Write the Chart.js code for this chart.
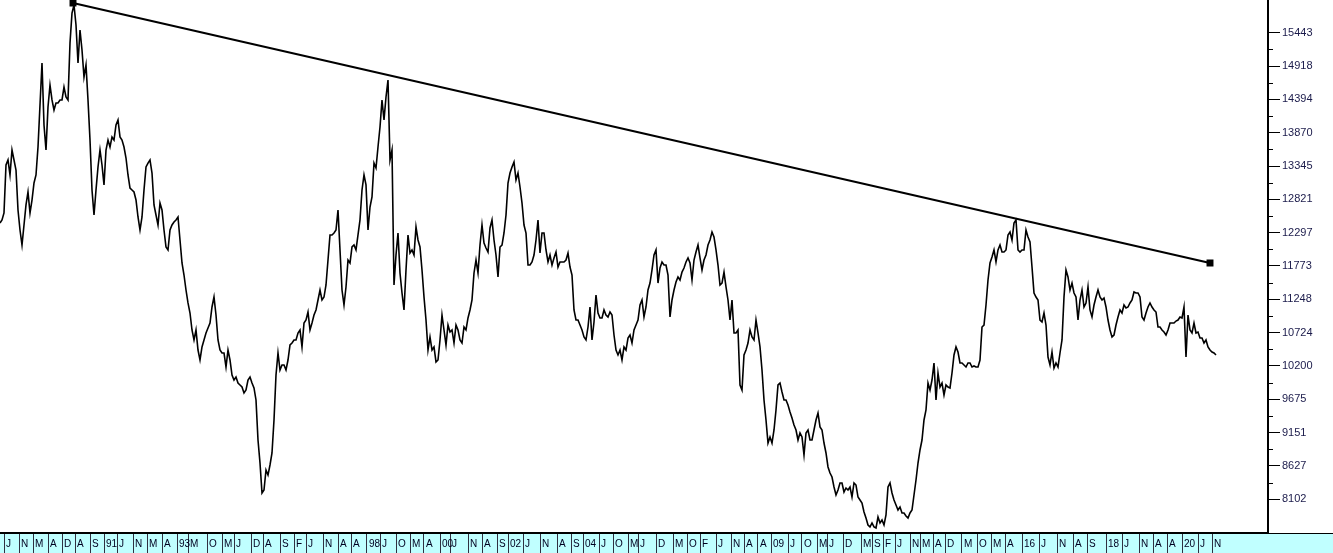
<!DOCTYPE html>
<html>
<head>
<meta charset="utf-8">
<script src="https://cdn.jsdelivr.net/npm/chart.js@4.4.1/dist/chart.umd.min.js"></script>
<style>
  html, body { margin: 0; padding: 0; background: #fff; overflow: hidden; }
  #contenedor { width: 1333px; height: 553px; position: relative; }
</style>
</head>
<body>
<div id="contenedor"><canvas id="grafica"></canvas></div>
<script>
// valores (un punto cada intervalo igual)
const valores = [
  12449, 12497, 12607, 13362, 13441, 13205, 13598, 13441, 13283, 12654,
  12339, 12103, 12418, 12733, 12937, 12607, 12811, 13079, 13205, 13645,
  14306, 14967, 13991, 13598, 14275, 14620, 14385, 14227, 14337, 14337,
  14385, 14385, 14589, 14432, 14385, 15281, 15753, 15880, 15565, 14967,
  15486, 15171, 14747, 14935, 14385, 13755, 12969, 12575, 12969, 13331,
  13598, 13362, 13048, 13598, 13755, 13645, 13803, 13755, 13991, 14070,
  13803, 13755, 13645, 13472, 13205, 13000, 12969, 12937, 12811, 12544,
  12339, 12544, 12969, 13331, 13393, 13441, 13236, 12733, 12575, 12418,
  12764, 12654, 12339, 12072, 12025, 12339, 12418, 12465, 12497, 12544,
  12182, 11820, 11631, 11395, 11191, 11033, 10766, 10609, 10766, 10451,
  10294, 10499, 10609, 10719, 10797, 10876, 11128, 11285, 11002, 10609,
  10451, 10404, 10404, 10184, 10451, 10294, 10058, 9979, 10027, 9932,
  9901, 9869, 9775, 9822, 9979, 10027, 9932, 9854, 9665, 9035,
  8673, 8201, 8249, 8563, 8484, 8642, 8831, 9350, 10058, 10404,
  10137, 10216, 10216, 10137, 10294, 10530, 10561, 10609, 10609, 10719,
  10766, 10499, 10876, 10923, 11049, 10766, 10876, 11002, 11081, 11238,
  11395,
  11238, 11285, 11474, 11867, 12261, 12261, 12292, 12339, 12654, 12025,
  11395, 11159, 11443, 11867, 11820, 12072, 12103, 12025, 12261, 12497,
  12969, 13205, 13048, 12339, 12701, 12859, 13393, 13315, 13645, 13960,
  14385, 14070, 14432, 14699, 13441, 13598, 11474, 11946, 12292, 11663,
  11348, 11081, 11710, 12261, 11977, 12025, 11946, 12387, 12182, 12072,
  11710, 11285, 10923, 10451, 10656, 10451, 10499, 10263, 10294, 10609,
  11002, 10766, 10530, 10844, 10734, 10766, 10561, 10844, 10766, 10609,
  10561, 10813, 10766, 10955, 11081, 11238, 11663, 11867, 11663, 12103,
  12418, 12135, 12056, 11993, 12371, 12497, 12182, 11946, 11600, 12072,
  12103, 12292, 12575, 13079, 13236, 13331, 13409, 13126, 13236, 13016,
  12764, 12418, 12292, 11788, 11788, 11836, 11946, 12182, 12497, 11977,
  12292, 12292, 12025, 11836, 11946, 11788, 11899, 11993, 11757, 11836,
  11836, 11836, 11867, 11977, 11757, 11631, 11081, 10923, 10923, 10844,
  10766, 10656, 10609, 10813, 11128, 10609, 10892, 11317, 11033, 10955,
  10955, 11081, 11002, 10971, 11049, 11002, 10687, 10451, 10373, 10451,
  10294, 10499, 10451, 10640, 10687, 10561, 10766, 10844, 10923, 11159,
  11238, 10971, 11128, 11395, 11505, 11710, 11946, 12025, 11505, 11741,
  11836, 11788, 11788, 11631, 10971, 11238, 11395, 11521, 11600, 11553,
  11678, 11741, 11836, 11899, 11820, 11553, 11867, 11993, 12103, 11899,
  11710, 11867, 11946, 12103, 12182, 12308, 12229, 12025, 11788, 11474,
  11505, 11678, 11443, 11238, 10923, 11238, 10719, 10719, 10766, 9901,
  9822, 10373, 10451, 10561, 10766, 10656, 10609, 10923, 10719, 10499,
  10137, 9665, 9350, 8988, 9083, 8988, 9193, 9507, 9901, 9932,
  9790, 9665, 9665, 9586, 9476, 9382, 9271, 9193, 9035, 9145,
  9083, 8799, 9145, 9193, 9035, 9035, 9193, 9350, 9460, 9240,
  9193, 8988, 8831, 8611, 8516, 8453, 8296, 8170, 8249, 8359,
  8359, 8217, 8280, 8249, 8296, 8138, 8359, 8327, 8138, 8091,
  8044, 7902, 7808, 7698, 7667, 7730, 7667, 7651, 7824, 7730,
  7777, 7698, 7855, 8296, 8359, 8201, 8091, 8013, 7934, 7981,
  7887, 7887, 7840, 7808, 7887, 7934, 8170, 8406, 8673, 8878,
  9035, 9350, 9507, 9932, 9822, 9979, 10247, 9665, 10089, 9869,
  9932, 9743, 9901, 9869, 9854,
  10089, 10373, 10499, 10420, 10247, 10247, 10216, 10184, 10247, 10247,
  10184, 10200, 10184, 10184, 10294, 10813, 10844, 11159, 11553, 11820,
  11915, 12025, 11836, 12025, 12103, 11993, 11993, 12025, 12261, 12308,
  12182, 12449, 12497, 12025, 11993, 12025, 12025, 12339, 12229, 12151,
  11757, 11348, 11285, 11238, 10923, 10892, 11033, 10844, 10341, 10216,
  10420, 10168, 10247, 10184, 10404, 10609, 11285, 11710, 11600, 11395,
  11505, 11348, 11285, 10923, 11238, 11395, 11128, 11191, 11443, 11081,
  10971, 11159, 11285, 11395, 11285, 11238, 11269, 11128, 10923, 10766,
  10656, 10687, 10844, 10971, 11081, 11033, 11159, 11112, 11128, 11191,
  11238, 11364, 11348, 11348, 11285, 10971, 10923, 11033, 11128, 11191,
  11128, 11081, 11049, 10813, 10813, 10766, 10734, 10687, 10766, 10876,
  10876, 10876, 10907, 10923, 10971, 10955, 11128, 10341, 11002, 10766,
  10719, 10876, 10719, 10734, 10640, 10640, 10561, 10609, 10499, 10451,
  10420, 10404, 10373
];

// linea de tendencia (indice inicial/final y valores)
const tendenciaIdx = [36.5, 605];
const tendenciaVal = [15911, 11820];

// marcas del eje Y
const yTicks = [15443, 14918, 14394, 13870, 13345, 12821, 12297, 11773,
                11248, 10724, 10200, 9675, 9151, 8627, 8102];
const yMin = 7572;
const yMax = 15958;

// etiquetas del eje X (meses / años) y su indice en la serie
const xEtiquetas = ["J","N","M","A","D","A","S","91","J","N","M","A","93","M","O","M","J","D","A","S","F","J","N","A","A","98","J","O","M","A","00","J","N","A","S","02","J","N","A","S","04","J","O","M","J","D","M","O","F","J","N","A","A","09","J","O","M","J","D","M","S","F","J","N","M","A","D","M","O","M","A","16","J","N","A","S","18","J","N","A","A","20","J","N"];
const xPosiciones = [2, 9.5, 16.5, 24, 31, 37.5, 45, 52, 58.5, 66.5, 73.5, 81, 88.5, 94, 103.5, 111, 117, 125.5, 131.5, 140, 147, 153, 161.5, 169, 175.5, 183.5, 190, 198, 205, 212, 220, 225, 234, 241, 248.5, 254, 261.5, 270, 278.5, 285.5, 291.5, 299.5, 306.5, 314, 319, 328, 336.5, 343.5, 350, 358, 365.5, 372, 379, 385.5, 394, 401, 408.5, 413.5, 421.5, 430.5, 436, 441.5, 447.5, 455, 460, 466.5, 472.5, 481, 488.5, 495.5, 502.5, 511, 519.5, 528.5, 536.5, 543.5, 553, 561, 569.5, 576.5, 583.5, 591, 599, 606];
const xMax = 634;

// franja celeste bajo el grafico y marcas menores del eje Y
const decoracion = {
    id: "decoracion",
    beforeDraw(chart) {
        const ctx = chart.ctx;
        const ex = chart.scales.x;
        ctx.save();
        ctx.fillStyle = "#c0ffff";
        ctx.fillRect(0, ex.top, chart.width, ex.bottom - ex.top);
        ctx.restore();
    },
    afterDraw(chart) {
        const ctx = chart.ctx;
        const ye = chart.scales.y;
        const ex = chart.scales.x;
        ctx.save();
        ctx.strokeStyle = "#000";
        ctx.lineWidth = 1;
        for (let i = 0; i < yTicks.length - 1; i++) {
            const py = Math.round(ye.getPixelForValue((yTicks[i] + yTicks[i + 1]) / 2)) + 0.5;
            ctx.beginPath();
            ctx.moveTo(ye.left, py);
            ctx.lineTo(ye.left + 5, py);
            ctx.stroke();
        }
        ctx.beginPath();
        ctx.moveTo(ye.left, ex.top + 0.5);
        ctx.lineTo(chart.width, ex.top + 0.5);
        ctx.stroke();
        ctx.restore();
    }
};

const ctx = document.getElementById("grafica").getContext("2d");
new Chart(ctx, {
    type: "line",
    data: {
        datasets: [
            {
                data: valores.map((v, i) => ({ x: i, y: v })),
                borderColor: "#000",
                borderWidth: 1.6,
                pointRadius: 0,
                tension: 0
            },
            {
                data: tendenciaIdx.map((x, i) => ({ x: x, y: tendenciaVal[i] })),
                borderColor: "#000",
                borderWidth: 2,
                pointStyle: "rect",
                pointRadius: 3.5,
                pointBackgroundColor: "#000",
                pointBorderColor: "#000",
                clip: false
            }
        ]
    },
    options: {
        responsive: true,
        maintainAspectRatio: false,
        animation: false,
        layout: { padding: 0, autoPadding: false },
        plugins: {
            legend: { display: false },
            tooltip: { enabled: false }
        },
        scales: {
            x: {
                type: "linear",
                position: "bottom",
                min: 0,
                max: xMax,
                afterBuildTicks: (s) => { s.ticks = xPosiciones.map(v => ({ value: v })); },
                afterFit: (s) => { s.height = 20; s.paddingLeft = 0; s.paddingRight = 0; },
                ticks: {
                    autoSkip: false,
                    maxRotation: 0,
                    minRotation: 0,
                    align: "start",
                    labelOffset: 2,
                    padding: -15,
                    color: "#000020",
                    font: { family: "'Liberation Sans', Arial, sans-serif", size: 10 },
                    callback: (v, i) => xEtiquetas[i]
                },
                grid: { drawOnChartArea: false, drawTicks: true, tickLength: 20, color: "#303040", lineWidth: 1 },
                border: { display: true, color: "#000", width: 2 }
            },
            y: {
                position: "right",
                min: yMin,
                max: yMax,
                afterBuildTicks: (s) => { s.ticks = yTicks.map(v => ({ value: v })); },
                afterFit: (s) => { s.width = 65; s.paddingTop = 0; s.paddingBottom = 0; },
                ticks: {
                    autoSkip: false,
                    padding: 2,
                    color: "#1a1a4a",
                    font: { family: "'Liberation Sans', Arial, sans-serif", size: 11 },
                    callback: (v) => String(v)
                },
                grid: { drawOnChartArea: false, drawTicks: true, tickLength: 12, color: "#000", lineWidth: 1 },
                border: { display: true, color: "#000", width: 2 }
            }
        }
    },
    plugins: [decoracion]
});
</script>
</body>
</html>
